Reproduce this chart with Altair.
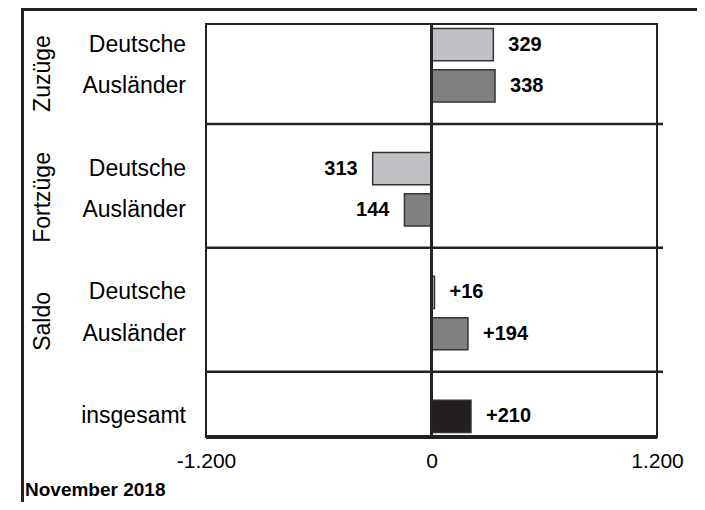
import altair as alt
import pandas as pd

# ---- data ----
groups = ["Zuzüge", "Zuzüge", "Fortzüge", "Fortzüge", "Saldo", "Saldo", "gesamt"]
group_titles = {"Zuzüge": "Zuzüge", "Fortzüge": "Fortzüge", "Saldo": "Saldo", "gesamt": ""}
rows = ["Deutsche", "Ausländer", "Deutsche", "Ausländer", "Deutsche", "Ausländer", "insgesamt"]
values = [329, 338, -313, -144, 16, 194, 210]
value_labels = ["329", "338", "313", "144", "+16", "+194", "+210"]
tick_values = [-1200, 0, 1200]
tick_labels = ["-1.200", "0", "1.200"]
row_types = ["Deutsche", "Ausländer", "insgesamt"]
row_colors = ["#c0c1c4", "#808083", "#231f20"]
footer = "November 2018"

# ---- layout derived from group structure (a gap slot between groups) ----
slots, seps = [], []
s, prev = 0, None
for g in groups:
    if prev is not None and g != prev:
        seps.append(s)
        s += 1
    slots.append(s)
    s += 1
    prev = g
n_slots = s

df = pd.DataFrame({
    "group": groups, "row": rows, "value": values, "label": value_labels, "slot": slots,
})
df["zero"] = 0
df["y0"] = df["slot"] + 0.11
df["y1"] = df["slot"] + 0.89
df["yc"] = df["slot"] + 0.5

gdf = (df.groupby("group", sort=False)["slot"].mean().reset_index())
gdf["title"] = gdf["group"].map(group_titles)
gdf = gdf[gdf["title"] != ""].copy()
gdf["yc"] = gdf["slot"] + 0.7

sdf = pd.DataFrame({"y": [v + 0.42 for v in seps]})

W, H = 451, 413
FONT = "Liberation Sans"

xs = alt.Scale(domain=[tick_values[0], tick_values[-1]], nice=False, zero=False)
ys = alt.Scale(domain=[0, n_slots], reverse=True, nice=False, zero=False)

label_expr = ""
for v, t in zip(tick_values[:-1], tick_labels[:-1]):
    label_expr += f"datum.value == {v} ? '{t}' : "
label_expr += f"'{tick_labels[-1]}'"

xaxis = alt.Axis(values=tick_values, labelExpr=label_expr, domain=False, ticks=False,
                 grid=False, labelFontSize=21, labelFont=FONT, labelColor="black",
                 labelPadding=13, labelFlush=False, labelOverlap=False, title=None)

base = alt.Chart(df)

bars = base.mark_bar(stroke="#333333", strokeWidth=1.5).encode(
    x=alt.X("value:Q", scale=xs, axis=xaxis),
    x2="zero:Q",
    y=alt.Y("y0:Q", scale=ys, axis=None),
    y2="y1:Q",
    color=alt.Color("row:N", scale=alt.Scale(domain=row_types, range=row_colors), legend=None),
)

zero_rule = base.mark_rule(color="#222222", strokeWidth=2).encode(
    x=alt.X("zero:Q", scale=xs), y=alt.value(0), y2=alt.value(H)
)

sep_rules = alt.Chart(sdf).mark_rule(color="#222222", strokeWidth=2.5).encode(
    y=alt.Y("y:Q", scale=ys, axis=None), x=alt.value(0), x2=alt.value(W + 6)
)

bottom_rule = base.mark_rule(color="#222222", strokeWidth=3).encode(
    y=alt.value(H), x=alt.value(0), x2=alt.value(W)
)

row_text = base.mark_text(align="right", baseline="middle", fontSize=23, font=FONT,
                          color="black").encode(
    y=alt.Y("yc:Q", scale=ys, axis=None), x=alt.value(-20), text="row:N"
)

pos_text = base.transform_filter("datum.value >= 0").mark_text(
    align="left", baseline="middle", dx=15, fontSize=20, fontWeight="bold", font=FONT,
    color="black").encode(x=alt.X("value:Q", scale=xs), y=alt.Y("yc:Q", scale=ys, axis=None),
                          text="label:N")

neg_text = base.transform_filter("datum.value < 0").mark_text(
    align="right", baseline="middle", dx=-15, fontSize=20, fontWeight="bold", font=FONT,
    color="black").encode(x=alt.X("value:Q", scale=xs), y=alt.Y("yc:Q", scale=ys, axis=None),
                          text="label:N")

group_text = alt.Chart(gdf).mark_text(angle=270, align="center", baseline="middle",
                                      fontSize=23, font=FONT, color="black").encode(
    x=alt.value(-163), y=alt.Y("yc:Q", scale=ys, axis=None), text="title:N"
)

outer_top = base.mark_rule(color="#222222", strokeWidth=3).encode(
    x=alt.value(-185), x2=alt.value(495), y=alt.value(-14.5)
)
outer_left = base.mark_rule(color="#222222", strokeWidth=3).encode(
    x=alt.value(-183.5), y=alt.value(-16), y2=alt.value(490)
)

footer_text = alt.Chart(pd.DataFrame({"t": [footer]})).mark_text(
    align="left", baseline="alphabetic", fontSize=19, fontWeight="bold",
    font=FONT, color="black").encode(
    x=alt.value(-181), y=alt.value(472), text="t:N"
)

chart = alt.layer(
    bars, zero_rule, sep_rules, bottom_rule, row_text, pos_text, neg_text, group_text,
    outer_top, outer_left, footer_text
).properties(
    width=W, height=H,
    autosize=alt.AutoSizeParams(type="none"),
    padding={"left": 198, "top": 16, "right": 40, "bottom": 65},
    background="white",
).configure_view(stroke="#222222", strokeWidth=2)

chart.save("out.html", embed_options={"renderer": "svg", "actions": False})
